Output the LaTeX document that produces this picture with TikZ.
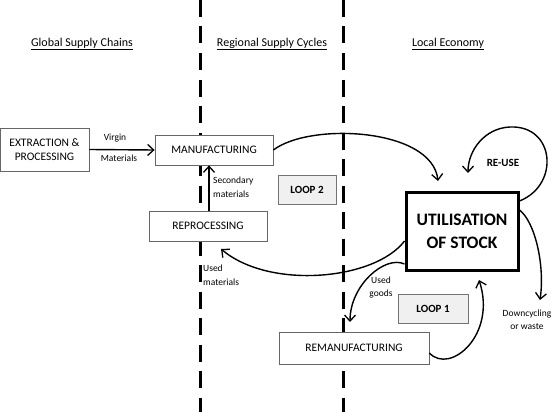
\documentclass[tikz,border=0pt]{standalone}
\usepackage{fontspec}
\setmainfont{Carlito}
\usetikzlibrary{arrows.meta}
\begin{document}
\begin{tikzpicture}[x=1pt,y=-1pt,
  divider/.style={line width=3pt, dash pattern=on 17pt off 9.5pt},
  heading/.style={font=\fontsize{12}{14}\selectfont, inner sep=0pt},
  box/.style={draw=black!60, line width=0.8pt, fill=white, inner sep=0pt,
    align=center, font=\fontsize{11.5}{14.5}\selectfont},
  loopbox/.style={draw=black!55, line width=0.8pt, fill=black!6, inner sep=0pt,
    font=\bfseries\fontsize{11}{13}\selectfont},
  stock/.style={draw=black, line width=3pt, fill=white, inner sep=0pt, align=center,
    font=\bfseries\fontsize{17.5}{23}\selectfont},
  small/.style={font=\fontsize{9.5}{13.5}\selectfont, inner sep=0pt},
  arr/.style={line width=1.4pt, -{Straight Barb[length=6pt,width=11pt,line width=1.3pt]}}]
\useasboundingbox (0,0) rectangle (553,412);

% dividers
\draw[divider] (200,0) -- (200,412);
\draw[divider] (343,0) -- (343,412);

% headings
\node[heading] (h1) at (82,44) {\underline{Global Supply Chains}};
\node[heading] (h2) at (272,44) {\underline{Regional Supply Cycles}};
\node[heading] (h3) at (448,44) {\underline{Local Economy}};

% boxes
\node[box, minimum width=89pt, minimum height=43pt] (ext) at (44.5,149.5) {EXTRACTION \&\\PROCESSING};
\node[box, minimum width=118pt, minimum height=30pt] (man) at (214,150) {MANUFACTURING};
\node[box, minimum width=118pt, minimum height=30pt] (rep) at (208,226) {REPROCESSING};
\node[loopbox, minimum width=58pt, minimum height=29pt] (loop2) at (307,189.5) {LOOP 2};
\node[stock, minimum width=112pt, minimum height=78pt] (util) at (462,231) {UTILISATION\\OF STOCK};
\node[loopbox, minimum width=70pt, minimum height=29pt] (loop1) at (433,308.5) {LOOP 1};
\node[box, minimum width=150pt, minimum height=32pt] (reman) at (354,348) {REMANUFACTURING};

% arrow ends
\coordinate (tUtilTop) at (438,181);
\coordinate (tReuse) at (468,173);
\coordinate (tRep) at (221,249);
\coordinate (tReman) at (350,322);
\coordinate (tUtilBot) at (479,280);
\coordinate (tDown) at (540,300);
\coordinate (sReuse) at (util.north east |- 0,201);
\coordinate (sDown) at (util.north east |- 0,210);
\coordinate (sRep) at (util.west |- 0,241);
\coordinate (sGoods) at (util.west |- 0,264);
\coordinate (sReman) at (reman.east |- 0,353);

% connectors
\draw[arr] (ext.east) -- (man.west);
\draw[arr] (rep.north -| 209,0) -- (man.south -| 209,0);
\draw[arr] (man.east) .. controls (310,122) and (432,128) .. (tUtilTop);
\draw[arr] (sReuse) .. controls (560,185) and (555,125) .. (510,127)
   .. controls (485,128) and (468,150) .. (tReuse);
\draw[arr] (sRep) .. controls (375,280) and (270,290) .. (tRep);
\draw[arr] (sGoods) .. controls (385,255) and (350,285) .. (tReman);
\draw[arr] (sReman) .. controls (450,375) and (497,335) .. (tUtilBot);
\draw[arr] (sDown) .. controls (535,222) and (545,265) .. (tDown);

% labels
\node[small] (lv) at (115,138) {Virgin};
\node[small] (lm) at (119,158) {Materials};
\node[small, anchor=west, align=left] (lsec) at (213,187) {Secondary\\materials};
\node[small, anchor=west, align=left] (lused) at (203,275) {Used\\materials};
\node[small, align=center] (lgoods) at (381,287.5) {Used\\goods};
\node[small, align=center] (ldown) at (527,319.5) {Downcycling\\or waste};
\node[font=\bfseries\fontsize{11}{13}\selectfont, inner sep=0pt] (lreuse) at (503,163) {RE-USE};
\end{tikzpicture}
\end{document}
